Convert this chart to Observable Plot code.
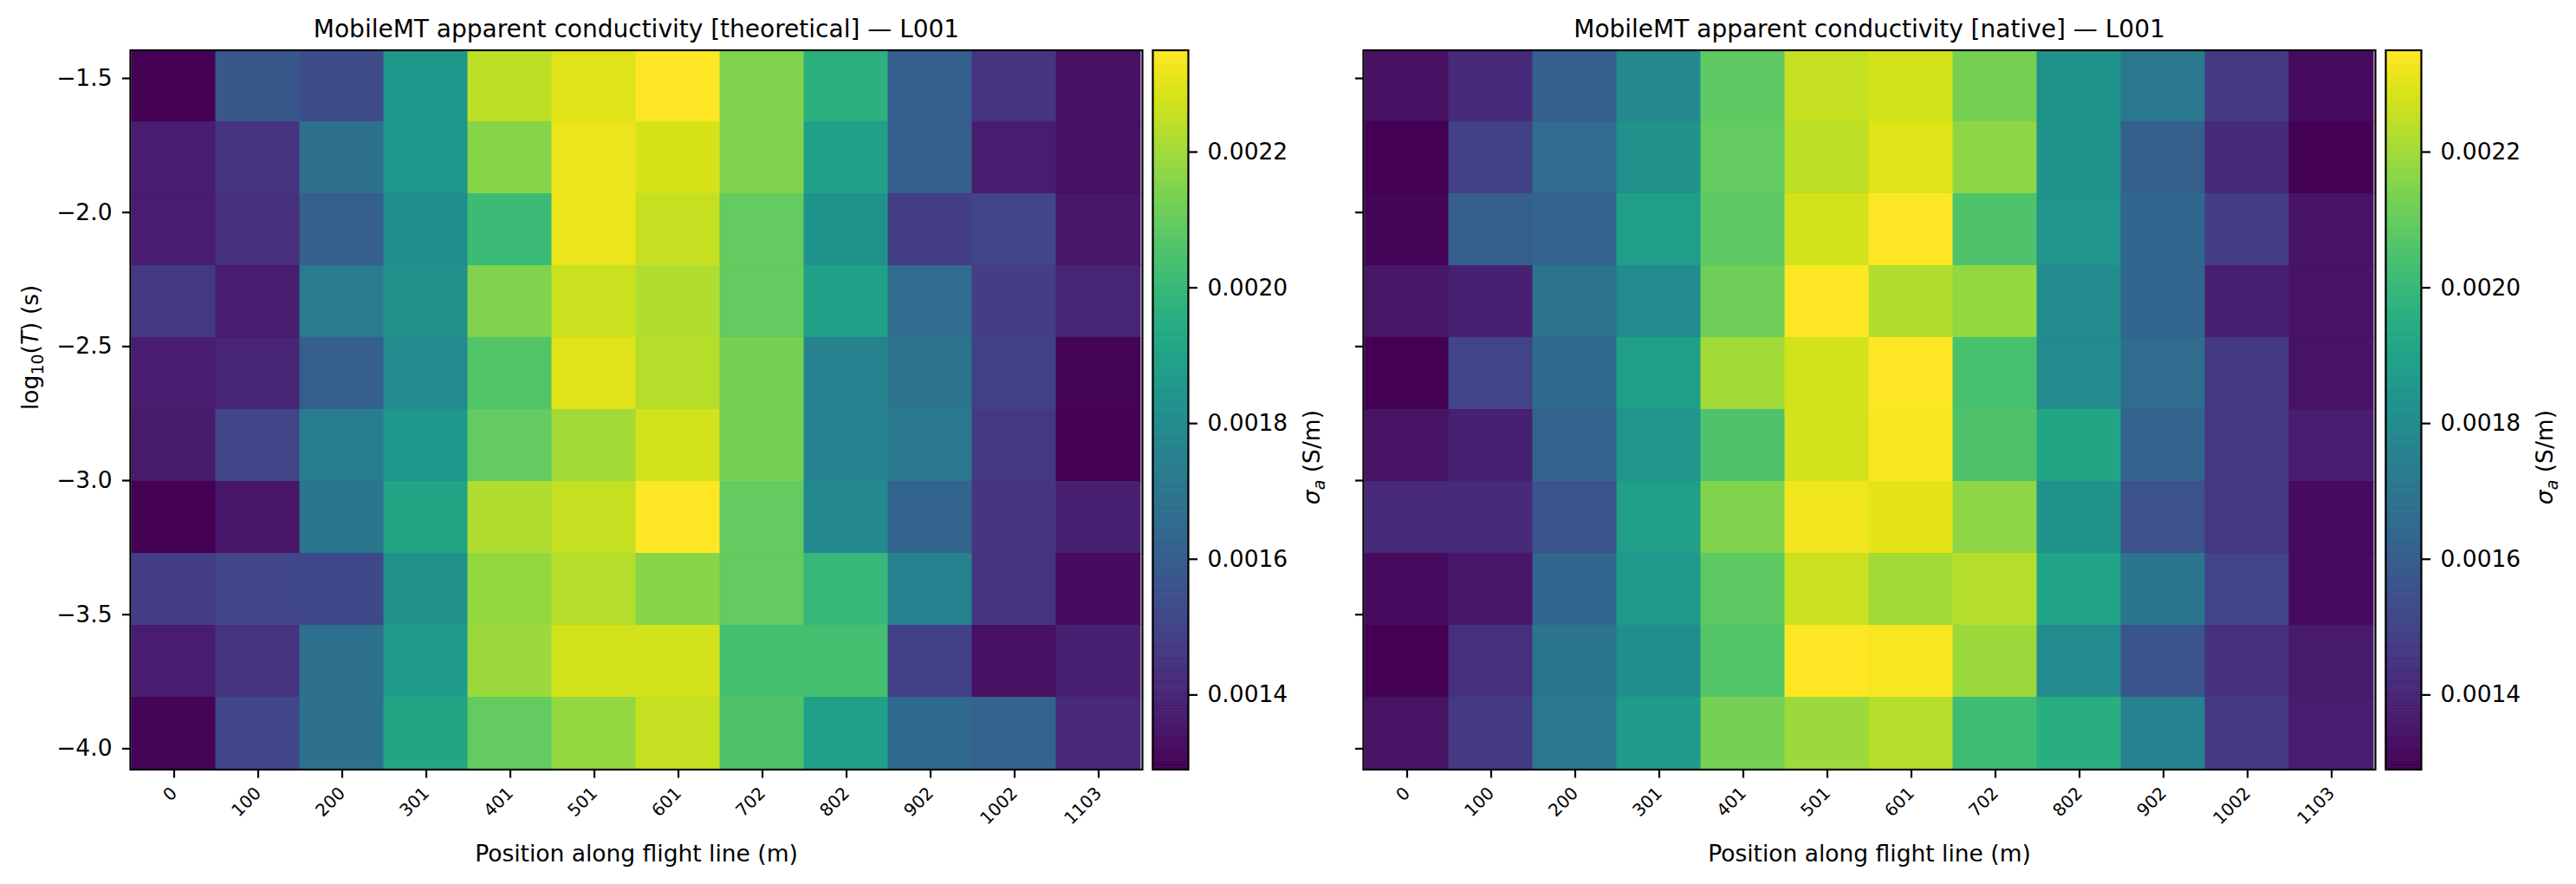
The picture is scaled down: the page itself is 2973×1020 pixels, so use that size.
<!DOCTYPE html>
<html><head><meta charset="utf-8">
<script src="https://cdn.jsdelivr.net/npm/d3@7"></script>
<script src="https://cdn.jsdelivr.net/npm/@observablehq/plot@0.6"></script>
<style>
html,body{margin:0;padding:0;background:#fff;}
#fig{position:relative;width:2973px;height:1020px;overflow:hidden;background:#fff;font-family:"DejaVu Sans";}
#fig > div{position:absolute;top:0;}
#fig svg{max-width:none;overflow:visible;display:block;}
</style></head><body><div id="fig"></div>
<script>
// ---- data ----
const positions = [0, 100, 200, 301, 401, 501, 601, 702, 802, 902, 1002, 1103];
// row centres, log10(T), top row first
const logPeriod = [-1.529, -1.797, -2.066, -2.334, -2.602, -2.871, -3.139, -3.407, -3.676, -3.944];
const yTicks = [-4.0, -3.5, -3.0, -2.5, -2.0, -1.5];
const cbTicks = [0.0014, 0.0016, 0.0018, 0.0020, 0.0022];
const sigmaRange = [0.00129, 0.00235];
const titles = ["MobileMT apparent conductivity [theoretical] \u2014 L001", "MobileMT apparent conductivity [native] \u2014 L001"];
const xLabel = "Position along flight line (m)";
const yLabel = "log10(T) (s)";
const cbLabel = "\u03c3a (S/m)";

const theoretical = [
  [0.001290, 0.001576, 0.001534, 0.001852, 0.002244, 0.002297, 0.002350, 0.002149, 0.001968, 0.001608, 0.001449, 0.001332],
  [0.001375, 0.001449, 0.001682, 0.001852, 0.002159, 0.002318, 0.002286, 0.002149, 0.001894, 0.001608, 0.001375, 0.001332],
  [0.001375, 0.001438, 0.001608, 0.001809, 0.002011, 0.002318, 0.002255, 0.002096, 0.001831, 0.001481, 0.001513, 0.001354],
  [0.001470, 0.001375, 0.001725, 0.001820, 0.002149, 0.002265, 0.002223, 0.002096, 0.001894, 0.001661, 0.001481, 0.001396],
  [0.001375, 0.001396, 0.001608, 0.001799, 0.002064, 0.002297, 0.002233, 0.002127, 0.001756, 0.001693, 0.001491, 0.001301],
  [0.001364, 0.001502, 0.001735, 0.001852, 0.002096, 0.002202, 0.002276, 0.002127, 0.001756, 0.001714, 0.001460, 0.001290],
  [0.001290, 0.001354, 0.001703, 0.001915, 0.002223, 0.002255, 0.002350, 0.002096, 0.001788, 0.001629, 0.001449, 0.001385],
  [0.001481, 0.001513, 0.001523, 0.001820, 0.002180, 0.002233, 0.002159, 0.002096, 0.002000, 0.001756, 0.001449, 0.001322],
  [0.001375, 0.001449, 0.001682, 0.001873, 0.002191, 0.002276, 0.002276, 0.002032, 0.002032, 0.001491, 0.001332, 0.001385],
  [0.001301, 0.001513, 0.001682, 0.001915, 0.002096, 0.002180, 0.002255, 0.002053, 0.001894, 0.001650, 0.001629, 0.001407]
];
const native = [
  [0.001332, 0.001417, 0.001608, 0.001788, 0.002085, 0.002255, 0.002276, 0.002127, 0.001831, 0.001714, 0.001470, 0.001322],
  [0.001290, 0.001491, 0.001661, 0.001820, 0.002096, 0.002244, 0.002297, 0.002170, 0.001831, 0.001608, 0.001417, 0.001290],
  [0.001301, 0.001608, 0.001629, 0.001884, 0.002085, 0.002276, 0.002350, 0.002053, 0.001841, 0.001640, 0.001481, 0.001343],
  [0.001354, 0.001385, 0.001693, 0.001799, 0.002117, 0.002350, 0.002223, 0.002180, 0.001799, 0.001640, 0.001385, 0.001343],
  [0.001290, 0.001502, 0.001650, 0.001884, 0.002202, 0.002276, 0.002350, 0.002043, 0.001799, 0.001661, 0.001470, 0.001343],
  [0.001343, 0.001385, 0.001629, 0.001841, 0.002053, 0.002276, 0.002339, 0.002053, 0.001915, 0.001629, 0.001460, 0.001375],
  [0.001417, 0.001417, 0.001566, 0.001884, 0.002149, 0.002329, 0.002308, 0.002170, 0.001831, 0.001555, 0.001460, 0.001322],
  [0.001322, 0.001354, 0.001640, 0.001862, 0.002085, 0.002265, 0.002202, 0.002233, 0.001905, 0.001703, 0.001502, 0.001322],
  [0.001290, 0.001438, 0.001703, 0.001809, 0.002064, 0.002350, 0.002339, 0.002191, 0.001799, 0.001566, 0.001438, 0.001364],
  [0.001343, 0.001470, 0.001714, 0.001873, 0.002127, 0.002191, 0.002233, 0.002021, 0.001958, 0.001756, 0.001470, 0.001375]
];

// ---- layout ----
const H = 1020, MT = 57.5, MB = 132.5;
const FONT = "DejaVu Sans";
const fig = document.getElementById("fig");

const half = Math.abs(logPeriod[0] - logPeriod[1]) / 2;
const nRows = logPeriod.length;
function rowEdges(i) {
  const top = i === 0 ? logPeriod[0] + half : (logPeriod[i - 1] + logPeriod[i]) / 2;
  const bot = i === nRows - 1 ? logPeriod[i] - half : (logPeriod[i] + logPeriod[i + 1]) / 2;
  return [bot, top];
}
const yDomain = [logPeriod[nRows - 1] - half, logPeriod[0] + half];
const fmtMinus = d => d.toFixed(1).replace("-", "\u2212");

function cellsOf(values) {
  const out = [];
  values.forEach((row, i) => {
    const [y1, y2] = rowEdges(i);
    row.forEach((v, j) => out.push({pos: positions[j], y1, y2, v}));
  });
  return out;
}

function place(node, left) {
  const d = document.createElement("div");
  d.style.left = left + "px";
  d.appendChild(node);
  fig.appendChild(d);
}

function richText(svg, plain, parts) {
  d3.select(svg).selectAll("text").filter(function () { return this.textContent === plain; }).each(function () {
    const t = d3.select(this);
    t.text(null);
    parts.forEach(p => {
      const s = t.append("tspan").text(p.t);
      if (p.italic) s.attr("font-style", "italic");
      if (p.size) s.attr("font-size", p.size);
      if (p.dy) s.attr("dy", p.dy);
    });
  });
}

function panel(values, title, showY, marginLeft) {
  const marks = [
    Plot.barY(cellsOf(values), {x: "pos", y1: "y1", y2: "y2", fill: "v", stroke: "v", strokeWidth: 1}),
    Plot.frame({stroke: "black", strokeWidth: 2.2}),
    Plot.axisY({ticks: yTicks, tickSize: 9, tickPadding: 12, strokeWidth: 2.2, fontSize: 26.5,
      tickFormat: showY ? fmtMinus : () => "", label: null}),
    Plot.axisX({tickSize: 10, tickPadding: 14, strokeWidth: 2.2, fontSize: 20, tickRotate: -45,
      tickFormat: d => String(d), label: null}),
    Plot.text([title], {text: d => d, frameAnchor: "top", dy: -15.5, lineAnchor: "bottom", fontSize: 28}),
    Plot.text([xLabel], {text: d => d, frameAnchor: "bottom", dy: 106, lineAnchor: "bottom", fontSize: 26.5})
  ];
  if (showY) marks.push(Plot.text([yLabel], {text: d => d, frameAnchor: "left", dx: -107, rotate: -90, lineAnchor: "bottom", fontSize: 26.5}));
  const svg = Plot.plot({
    width: marginLeft + 1168 + 12, height: H,
    marginLeft, marginRight: 12, marginTop: MT, marginBottom: MB,
    style: {background: "transparent", fontFamily: FONT, overflow: "visible", color: "black"},
    x: {type: "band", domain: positions, padding: 0},
    y: {domain: yDomain},
    color: {type: "linear", scheme: "viridis", domain: sigmaRange},
    marks
  });
  if (showY) richText(svg, yLabel, [{t: "log"}, {t: "10", size: "19px", dy: "6"}, {t: "(", dy: "-6"}, {t: "T", italic: true}, {t: ") (s)"}]);
  return svg;
}

function colorbar() {
  const n = 256;
  const step = (sigmaRange[1] - sigmaRange[0]) / n;
  const ramp = d3.range(n).map(i => ({y1: sigmaRange[0] + i * step, y2: sigmaRange[0] + (i + 1) * step, v: sigmaRange[0] + (i + 0.5) * step}));
  const svg = Plot.plot({
    width: 240, height: H,
    marginLeft: 5, marginRight: 194, marginTop: MT, marginBottom: MB,
    style: {background: "transparent", fontFamily: FONT, overflow: "visible", color: "black"},
    y: {domain: sigmaRange},
    color: {type: "linear", scheme: "viridis", domain: sigmaRange},
    marks: [
      Plot.rect(ramp, {y1: "y1", y2: "y2", fill: "v", stroke: "v", strokeWidth: 0.6}),
      Plot.frame({stroke: "black", strokeWidth: 2.2}),
      Plot.axisY({anchor: "right", ticks: cbTicks, tickFormat: d => d.toFixed(4), tickSize: 10, tickPadding: 12, strokeWidth: 2.2, fontSize: 26.5, label: null}),
      Plot.text([cbLabel], {text: d => d, frameAnchor: "right", dx: 143, rotate: -90, lineAnchor: "middle", fontSize: 26.5})
    ]
  });
  richText(svg, cbLabel, [{t: "\u03c3", italic: true}, {t: "a", italic: true, size: "19px", dy: "6"}, {t: " (S/m)", dy: "-6"}]);
  return svg;
}

place(panel(theoretical, titles[0], true, 150), 0);
place(colorbar(), 1325);
place(panel(native, titles[1], false, 40), 1533);
place(colorbar(), 2748);
</script></body></html>
